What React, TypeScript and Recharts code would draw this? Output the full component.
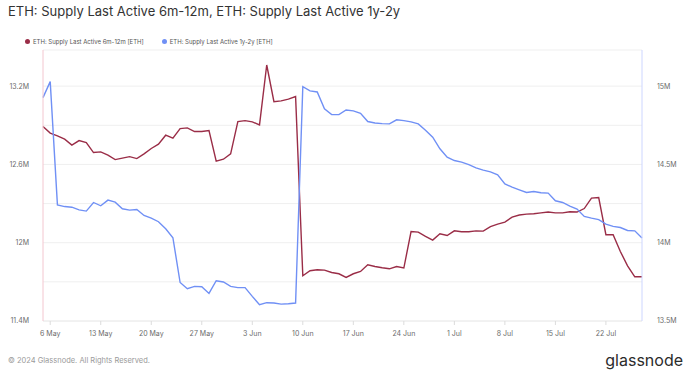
import { LineChart, Line, XAxis, YAxis, CartesianGrid } from 'recharts'

const RED = '#9a2d47'
const BLUE = '#7090f5'
const FONT = 'Inter, "Noto Sans", sans-serif'

// daily points, 5 May -> 27 Jul
const MONTHS = ['May', 'Jun', 'Jul']
const MONTH_DAYS = [31, 30, 31]
function buildDates(): string[] {
    const out: string[] = []
    let m = 0
    let d = 5
    while (!(m === 2 && d > 27)) {
        out.push(`${d} ${MONTHS[m]}`)
        d++
        if (d > MONTH_DAYS[m]) { d = 1; m++ }
    }
    return out
}
const dates = buildDates()

// ETH: Supply Last Active 6m-12m, millions
const supply6m12m = [
    12.890, 12.840, 12.819, 12.794, 12.748, 12.783, 12.768,
    12.691, 12.696, 12.671, 12.637, 12.648, 12.660, 12.645,
    12.681, 12.722, 12.755, 12.824, 12.801, 12.875, 12.880,
    12.852, 12.852, 12.859, 12.625, 12.640, 12.681, 12.928,
    12.936, 12.926, 12.903, 13.362, 13.081, 13.087, 13.100,
    13.120, 11.747, 11.785, 11.793, 11.790, 11.772, 11.762,
    11.734, 11.762, 11.780, 11.831, 11.818, 11.808, 11.800,
    11.818, 11.806, 12.086, 12.081, 12.048, 12.020, 12.068,
    12.055, 12.091, 12.084, 12.084, 12.091, 12.089, 12.124,
    12.143, 12.158, 12.196, 12.212, 12.219, 12.222, 12.229,
    12.235, 12.229, 12.229, 12.237, 12.235, 12.262, 12.342,
    12.346, 12.061, 12.061, 11.933, 11.823, 11.739, 11.739,
]

// ETH: Supply Last Active 1y-2y, millions
const supply1y2y = [
    14.927, 15.029, 14.242, 14.231, 14.227, 14.210, 14.202,
    14.257, 14.236, 14.272, 14.259, 14.217, 14.208, 14.212,
    14.174, 14.157, 14.134, 14.089, 14.032, 13.746, 13.706,
    13.721, 13.719, 13.676, 13.757, 13.749, 13.721, 13.713,
    13.713, 13.657, 13.604, 13.617, 13.615, 13.608, 13.610,
    13.615, 14.997, 14.970, 14.963, 14.855, 14.818, 14.818,
    14.848, 14.842, 14.827, 14.774, 14.765, 14.761, 14.759,
    14.785, 14.780, 14.772, 14.759, 14.719, 14.674, 14.600,
    14.547, 14.525, 14.515, 14.499, 14.478, 14.464, 14.453,
    14.434, 14.376, 14.355, 14.338, 14.321, 14.327, 14.319,
    14.317, 14.268, 14.257, 14.234, 14.215, 14.168, 14.157,
    14.148, 14.119, 14.104, 14.097, 14.078, 14.076, 14.030,
]

const xTicks = ['6 May', '13 May', '20 May', '27 May', '3 Jun', '10 Jun', '17 Jun', '24 Jun', '1 Jul', '8 Jul', '15 Jul', '22 Jul']
const leftTicks = [11.4, 11.7, 12, 12.3, 12.6, 12.9, 13.2]
const leftLabelled = [11.4, 12, 12.6, 13.2]
const rightTicks = [13.5, 14, 14.5, 15]

const data = dates.map((date, i) => ({ date, a: supply6m12m[i], b: supply1y2y[i] }))

const tickStyle = { fontSize: 7, fill: '#6b6b6b', fontFamily: FONT }

function LegendItem({ color, label }: { color: string; label: string }) {
    return (
        <span style={{ display: 'inline-flex', alignItems: 'center', marginRight: 18 }}>
            <span style={{ width: 5, height: 5, borderRadius: '50%', background: color, marginRight: 3 }} />
            {label}
        </span>
    )
}

export default function App() {
    return (
        <div style={{ position: 'absolute', left: 0, top: 0, width: 691, height: 372, background: '#fff', fontFamily: FONT }}>
            <div style={{ position: 'absolute', left: 8, top: 3, fontSize: 13, color: '#333', whiteSpace: 'nowrap' }}>
                ETH: Supply Last Active 6m-12m, ETH: Supply Last Active 1y-2y
            </div>
            <div style={{ position: 'absolute', left: 25, top: 38, fontSize: 6, color: '#555', whiteSpace: 'nowrap', display: 'flex' }}>
                <LegendItem color={RED} label="ETH: Supply Last Active 6m-12m [ETH]" />
                <LegendItem color={BLUE} label="ETH: Supply Last Active 1y-2y [ETH]" />
            </div>
            <div style={{ position: 'absolute', left: 0, top: 0 }}>
                <LineChart width={691} height={372} data={data} margin={{ top: 50, right: 0, bottom: 31, left: 0 }}>
                    <CartesianGrid yAxisId="left" vertical={false} stroke="#efefef" />
                    <XAxis
                        dataKey="date"
                        ticks={xTicks}
                        interval={0}
                        height={20}
                        tick={tickStyle}
                        tickSize={4}
                        tickMargin={6}
                        tickLine={{ stroke: '#dcdcdc' }}
                        axisLine={{ stroke: '#ececec' }}
                    />
                    <YAxis
                        yAxisId="left"
                        domain={[11.4, 13.477]}
                        ticks={leftTicks}
                        interval={0}
                        width={43}
                        tick={tickStyle}
                        tickLine={false}
                        tickMargin={8}
                        axisLine={{ stroke: '#f3c6cf' }}
                        tickFormatter={(v: number) => (leftLabelled.includes(v) ? `${v}M` : '')}
                    />
                    <YAxis
                        yAxisId="right"
                        orientation="right"
                        domain={[13.5, 15.231]}
                        ticks={rightTicks}
                        interval={0}
                        width={49}
                        tick={tickStyle}
                        tickLine={false}
                        tickMargin={9}
                        axisLine={{ stroke: '#cdd6ff' }}
                        tickFormatter={(v: number) => `${v}M`}
                    />
                    <Line yAxisId="left" type="linear" dataKey="a" stroke={RED} strokeWidth={1.4} dot={false} isAnimationActive={false} />
                    <Line yAxisId="right" type="linear" dataKey="b" stroke={BLUE} strokeWidth={1.4} dot={false} isAnimationActive={false} />
                </LineChart>
            </div>
            <div style={{ position: 'absolute', left: 8, top: 356, fontSize: 7.5, color: '#9a9a9a', whiteSpace: 'nowrap' }}>
                © 2024 Glassnode. All Rights Reserved.
            </div>
            <div style={{ position: 'absolute', right: 8, top: 350, fontSize: 16, color: '#2b2b2b', whiteSpace: 'nowrap' }}>
                glassnode
            </div>
        </div>
    )
}
